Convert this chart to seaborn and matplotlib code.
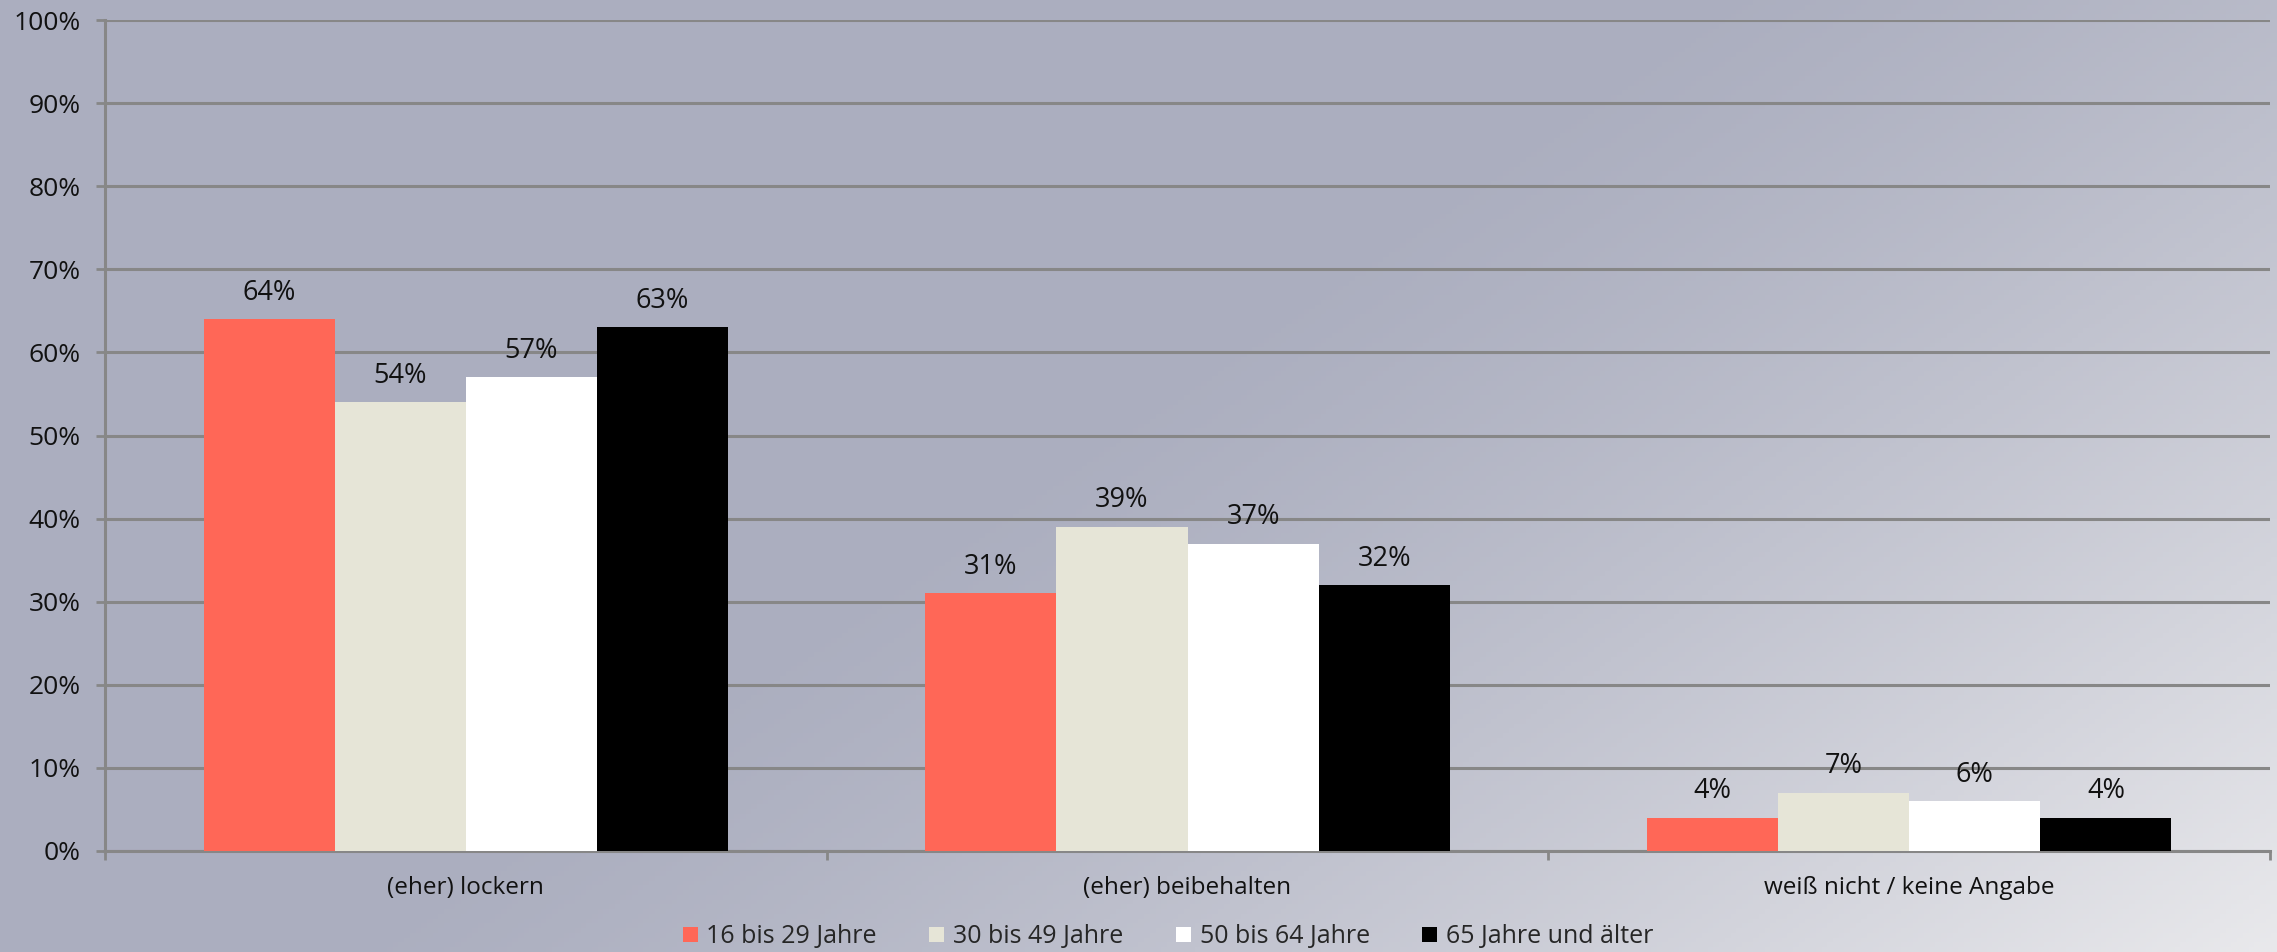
import numpy as np
import pandas as pd
import matplotlib
matplotlib.use("Agg")
import matplotlib.pyplot as plt
import seaborn as sns
from matplotlib.patches import Patch

categories = ["(eher) lockern", "(eher) beibehalten", "weiß nicht / keine Angabe"]
groups = ["16 bis 29 Jahre", "30 bis 49 Jahre", "50 bis 64 Jahre", "65 Jahre und älter"]
vals_16_29 = [64, 31, 4]
vals_30_49 = [54, 39, 7]
vals_50_64 = [57, 37, 6]
vals_65 = [63, 32, 4]
colors = ["#ff6757", "#e6e5d7", "#ffffff", "#000000"]
yticks = [0, 10, 20, 30, 40, 50, 60, 70, 80, 90, 100]

rows = []
for g, vals in zip(groups, [vals_16_29, vals_30_49, vals_50_64, vals_65]):
    for c, v in zip(categories, vals):
        rows.append({"cat": c, "group": g, "val": v})
df = pd.DataFrame(rows)

sns.set_theme(style="white")
plt.rcParams["font.family"] = ["Open Sans", "DejaVu Sans"]

W, H = 2277, 952
fig = plt.figure(figsize=(W / 100, H / 100), dpi=100)

# background gradient
bg = fig.add_axes([0, 0, 1, 1], zorder=0)
xx, yy = np.meshgrid(np.linspace(0, 1, 400), np.linspace(0, 1, 200))
t = 0.75 * xx + 0.45 * yy
t = np.clip((t - 0.55) / 0.65, 0, 1) ** 1.3
c0 = np.array([0xab, 0xae, 0xbf]) / 255
c1 = np.array([0xe9, 0xe9, 0xec]) / 255
img = c0[None, None, :] * (1 - t[..., None]) + c1[None, None, :] * t[..., None]
bg.imshow(img, aspect="auto", extent=[0, 1, 0, 1], origin="upper")
bg.set_axis_off()

ax = fig.add_axes([105 / W, 101 / H, (2270 - 105) / W, (851 - 20) / H], zorder=1)
ax.set_facecolor("none")

sns.barplot(data=df, x="cat", y="val", hue="group", hue_order=groups,
            order=categories, palette=colors, width=0.727, gap=0,
            saturation=1, legend=False, ax=ax, zorder=3, edgecolor="none")

for cont in ax.containers:
    ax.bar_label(cont, labels=[f"{v:.0f}%" for v in cont.datavalues],
                 padding=9, fontsize=19.5, color="#111111")

ax.set_ylim(0, 100)
ax.set_xlim(-0.5, 2.5)
ax.set_yticks(yticks)
ax.set_yticklabels([f"{v}%" for v in yticks], fontsize=19, color="#111111")
ax.yaxis.grid(True, color="#878787", linewidth=2.2, zorder=0)
ax.set_axisbelow(True)
ax.set_xlabel("")
ax.set_ylabel("")

for s in ["top", "right"]:
    ax.spines[s].set_visible(False)
for s in ["left", "bottom"]:
    ax.spines[s].set_color("#878787")
    ax.spines[s].set_linewidth(2.2)

ax.tick_params(axis="y", left=True, length=6.5, width=2, color="#878787", pad=11,
               labelsize=19)
ax.set_xticks([0, 1, 2])
ax.set_xticklabels(categories, fontsize=17.5, color="#111111")
ax.tick_params(axis="x", bottom=False, pad=12)
# boundary ticks between categories
ax.set_xticks([-0.5, 0.5, 1.5, 2.5], minor=True)
ax.tick_params(axis="x", which="minor", bottom=True, length=6.5, width=2, color="#878787")

handles = [Patch(facecolor=c, edgecolor="none", label=g) for c, g in zip(colors, groups)]
fig.legend(handles=handles, loc="center", bbox_to_anchor=(0.513, 0.016), ncol=4,
           frameon=False, fontsize=18, handlelength=0.6, handleheight=0.6,
           handletextpad=0.35, columnspacing=2.1)

fig.savefig("out.png", dpi=100)
